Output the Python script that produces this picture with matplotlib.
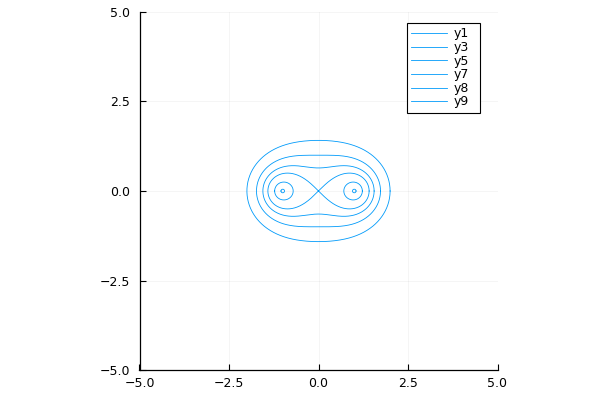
import numpy as np
import matplotlib.pyplot as plt

# Cassini ovals ((x-1)^2+y^2)((x+1)^2+y^2) = level
levels = [9.0, 4.0, 2.0, 1.0, 0.25, 0.01]
labels = ["y1", "y3", "y5", "y7", "y8", "y9"]
ticks = [-5.0, -2.5, 0.0, 2.5, 5.0]
tick_labels = ["\u22125.0", "\u22122.5", "0.0", "2.5", "5.0"]

LINE = "#009AFA"


def cassini(level, n=800):
    b2 = np.sqrt(level)
    if b2 > 1:
        th = np.linspace(0, 2 * np.pi, n)
        r = np.sqrt(np.cos(2 * th) + np.sqrt(level - np.sin(2 * th) ** 2))
        return r * np.cos(th), r * np.sin(th)
    if b2 == 1:
        # lemniscate, one line through the origin
        t = np.linspace(0, 2 * np.pi, n)
        d = 1 + np.sin(t) ** 2
        return np.sqrt(2) * np.cos(t) / d, np.sqrt(2) * np.sin(t) * np.cos(t) / d
    # two loops around (+-1, 0)
    phi = np.linspace(0, 2 * np.pi, n)
    th = 0.5 * np.arcsin(b2 * np.sin(phi))
    r = np.sqrt(np.sqrt(1 - level * np.sin(phi) ** 2) + b2 * np.cos(phi))
    x = r * np.cos(th)
    y = r * np.sin(th)
    return np.concatenate([x, [np.nan], -x]), np.concatenate([y, [np.nan], y])


fig = plt.figure(figsize=(6, 4), dpi=100)
ax = fig.add_axes([139 / 600, 30 / 400, 359 / 600, 358 / 400])

for lev, lab in zip(levels, labels):
    x, y = cassini(lev)
    ax.plot(x, y, color=LINE, lw=0.6, label=lab)

ax.set_xlim(-5, 5)
ax.set_ylim(-5, 5)
ax.set_aspect("equal", adjustable="box")
ax.set_xticks(ticks)
ax.set_yticks(ticks)
ax.set_xticklabels(tick_labels)
ax.set_yticklabels(tick_labels)
ax.tick_params(direction="in", length=4, width=0.8, labelsize=9)
ax.tick_params(axis="x", pad=5)
ax.tick_params(axis="y", pad=7)
ax.grid(True, color="black", alpha=0.06, lw=0.5)
ax.spines["top"].set_visible(False)
ax.spines["right"].set_visible(False)
for s in ("left", "bottom"):
    ax.spines[s].set_linewidth(0.9)

leg = ax.legend(loc="upper left", bbox_to_anchor=((407 - 139) / 359, 0.0, 73 / 359, (370 - 23) / 358),
                mode="expand", borderaxespad=0, fontsize=9, fancybox=False, framealpha=1,
                edgecolor="black", handlelength=2.9, handletextpad=0.5,
                labelspacing=0.05, borderpad=0.35)
leg.get_frame().set_linewidth(0.8)

fig.savefig("out.png", dpi=100)
